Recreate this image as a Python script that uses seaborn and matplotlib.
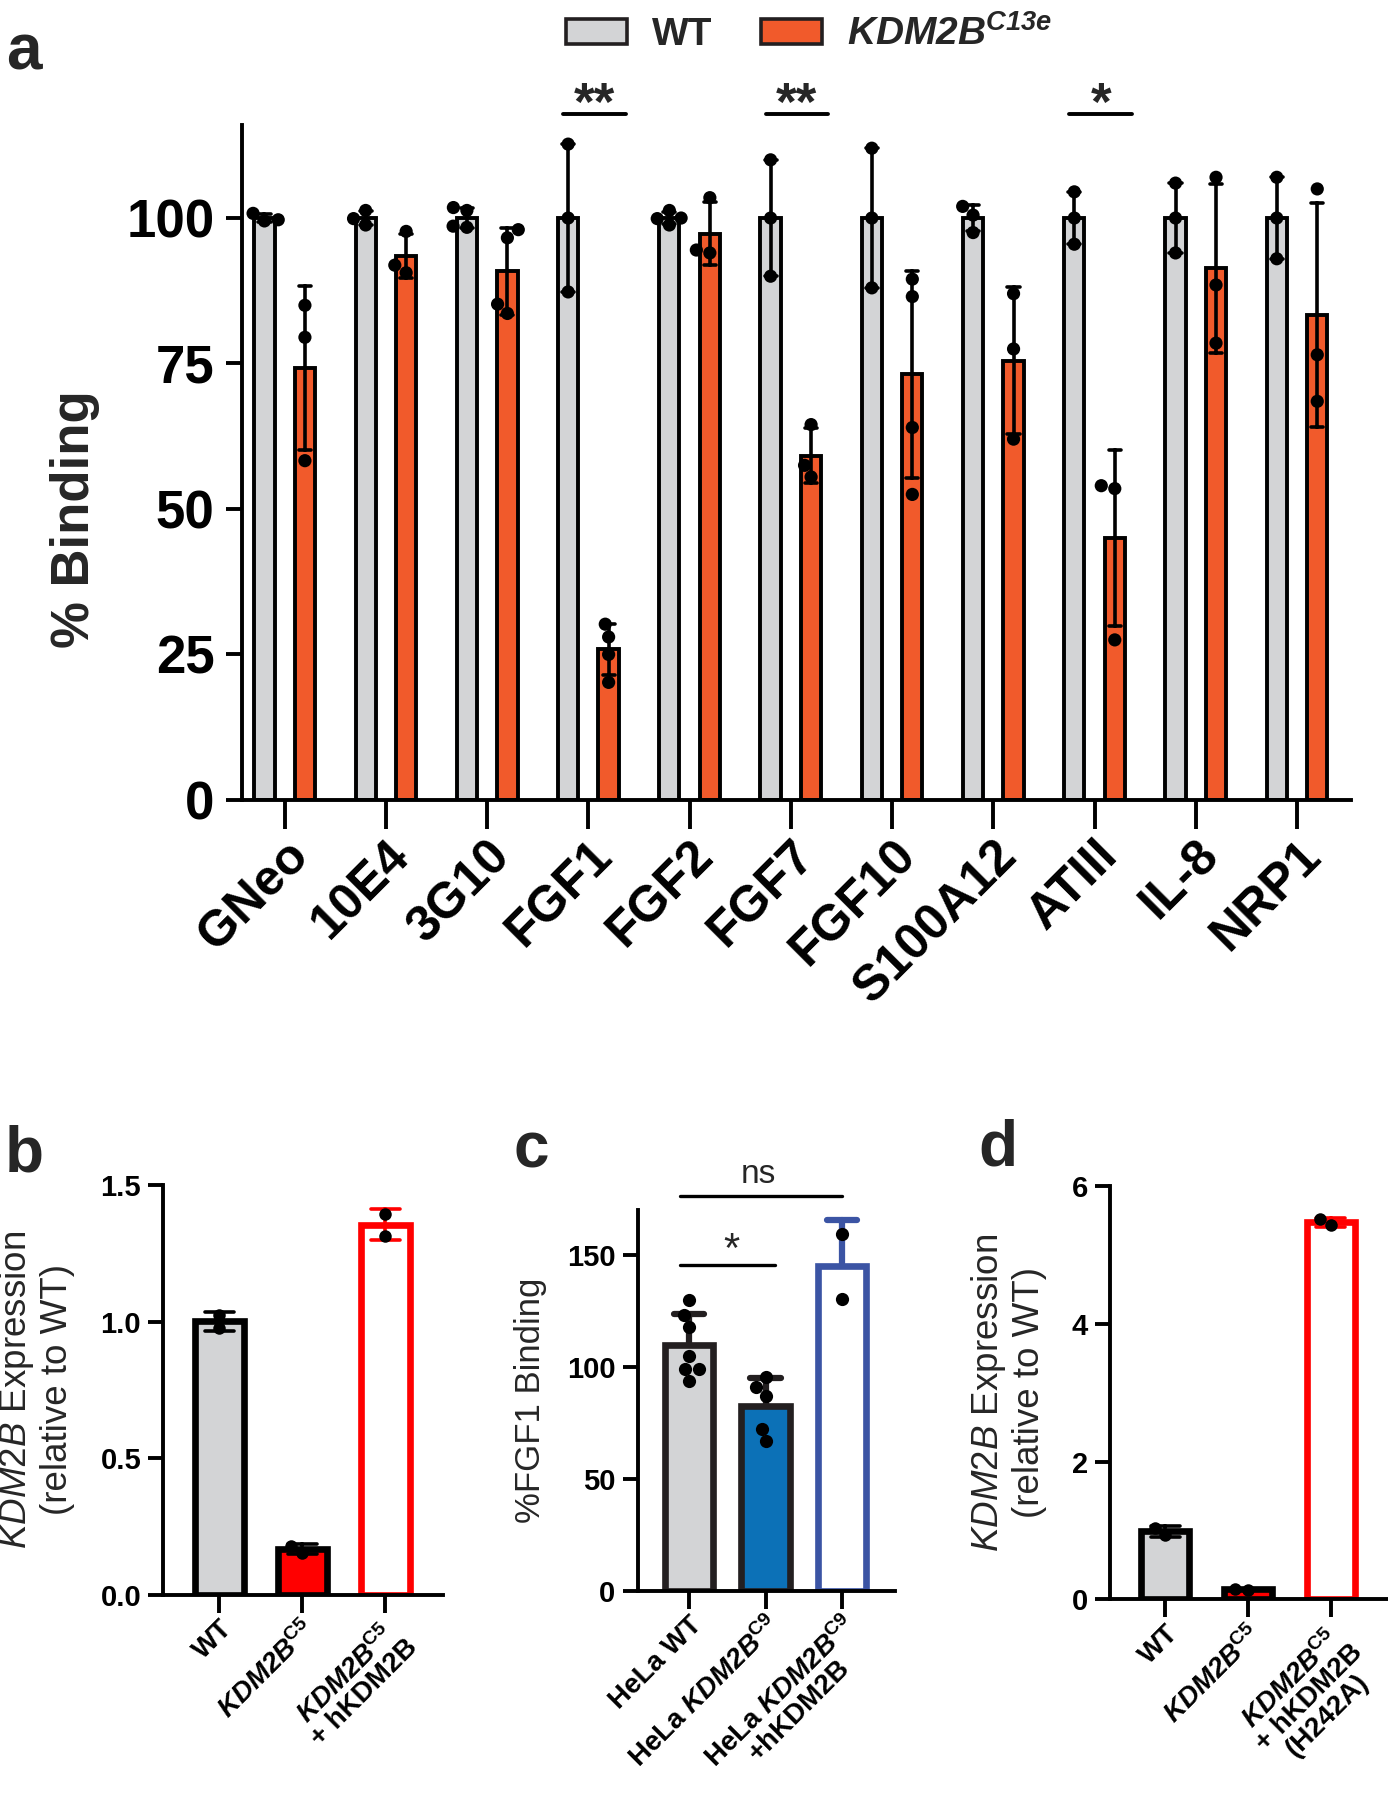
import numpy as np
import pandas as pd
import matplotlib
matplotlib.use("Agg")
import matplotlib.pyplot as plt
import seaborn as sns
from matplotlib.patches import Patch

# ---------------- data ----------------
targets = ["GNeo", "10E4", "3G10", "FGF1", "FGF2", "FGF7", "FGF10",
           "S100A12", "ATIII", "IL-8", "NRP1"]
wt_a = [[99.5, 100.8, 99.7], [98.8, 101.3, 99.9], [101.8, 98.4, 101.3, 98.6],
        [112.7, 100.0, 87.3], [101.3, 98.8, 100.0, 99.9], [110.0, 100.0, 90.0],
        [112.0, 100.0, 88.0], [102.0, 100.5, 97.5], [104.5, 100.0, 95.5],
        [106.0, 100.0, 94.0], [107.0, 100.0, 93.0]]
ko_a = [[85.0, 79.5, 58.3], [97.7, 90.6, 91.9], [96.6, 98.0, 85.2, 83.6],
        [30.2, 28.0, 25.0, 20.2], [103.5, 94.5, 94.0], [64.5, 57.5, 55.5],
        [89.5, 86.5, 64.0, 52.5], [87.0, 77.5, 62.0], [54.0, 53.5, 27.5],
        [107.0, 88.5, 78.5], [105.0, 76.5, 68.5]]
sig_a_targets = ["FGF1", "FGF7", "ATIII"]
sig_a_text = ["**", "**", "*"]

cats_b = ["WT", "KDM2B C5", "KDM2B C5 + hKDM2B"]
labels_b = ["WT", r"$\mathbfit{KDM2B}^{\mathbf{C5}}$",
            r"$\mathbfit{KDM2B}^{\mathbf{C5}}$" + "\n+ hKDM2B"]
vals_b = [[1.025, 0.976], [0.155, 0.180], [1.395, 1.315]]

cats_c = ["HeLa WT", "HeLa KDM2B C9", "HeLa KDM2B C9 +hKDM2B"]
labels_c = ["HeLa WT", r"HeLa $\mathbfit{KDM2B}^{\mathbf{C9}}$",
            r"HeLa $\mathbfit{KDM2B}^{\mathbf{C9}}$" + "\n+hKDM2B"]
vals_c = [[123.3, 129.7, 117.8, 105.0, 99.1, 99.1, 93.4],
          [95.3, 86.8, 91.1, 72.4, 66.7],
          [159.3, 130.3]]

cats_d = ["WT", "KDM2B C5", "KDM2B C5 + hKDM2B (H242A)"]
labels_d = ["WT", r"$\mathbfit{KDM2B}^{\mathbf{C5}}$",
            r"$\mathbfit{KDM2B}^{\mathbf{C5}}$" + "\n+ hKDM2B\n(H242A)"]
vals_d = [[0.93, 1.04], [0.14, 0.15], [5.43, 5.52]]

# ---------------- style ----------------
sns.set_theme(style="ticks")
plt.rcParams['font.family'] = ['Liberation Sans', 'DejaVu Sans']
plt.rcParams['mathtext.fontset'] = 'custom'
plt.rcParams['mathtext.rm'] = 'Liberation Sans'
plt.rcParams['mathtext.it'] = 'Liberation Sans:italic'
plt.rcParams['mathtext.bf'] = 'Liberation Sans:bold'
plt.rcParams['mathtext.bfit'] = 'Liberation Sans:italic:bold'

GRAY = "#D3D4D6"
ORANGE = "#F15A2B"
RED = "#FF0000"
BLUE = "#0C71B7"
BLUE_EDGE = "#3B54A4"
DARK = "#231F20"

fig = plt.figure(figsize=(13.88, 18), dpi=100)

# ---------------- panel a ----------------
ax = fig.add_axes([0.1741, 0.5556, 0.799, 0.375])
rows = []
for t, w, k in zip(targets, wt_a, ko_a):
    rows += [(t, "WT", v) for v in w]
    rows += [(t, "KDM2B", v) for v in k]
dfa = pd.DataFrame(rows, columns=["target", "geno", "value"])

sns.barplot(data=dfa, x="target", y="value", hue="geno", order=targets,
            hue_order=["WT", "KDM2B"], palette={"WT": GRAY, "KDM2B": ORANGE},
            saturation=1, errorbar="sd", capsize=0.24, width=0.8, gap=0.5,
            edgecolor="black", linewidth=2.8,
            err_kws={"linewidth": 2.6, "color": "black"},
            legend=False, ax=ax)
sns.swarmplot(data=dfa, x="target", y="value", hue="geno", order=targets,
              hue_order=["WT", "KDM2B"], palette={"WT": "black", "KDM2B": "black"},
              dodge=True, size=9.5, legend=False, ax=ax, zorder=4)

ax.set_xlim(-0.425, 10.53)
ax.set_ylim(0, 116)
ax.set_yticks([0, 25, 50, 75, 100])
ax.set_xlabel("")
ax.set_ylabel("% Binding", fontsize=38, fontweight="bold")
ax.yaxis.set_label_coords(-0.128, 0.416)
sns.despine(ax=ax)
for s in ["left", "bottom"]:
    ax.spines[s].set_linewidth(2.8)
    ax.spines[s].set_color("black")
ax.tick_params(axis="y", length=11.5, width=2.8, labelsize=38, pad=8, colors="black")
ax.tick_params(axis="x", length=21, width=2.8, labelsize=36, pad=2, colors="black")
for lab in ax.get_yticklabels():
    lab.set_fontweight("bold")
ax.set_xticks(range(len(targets)))
ax.set_xticklabels(targets, rotation=45, ha="right", va="top",
                   rotation_mode="anchor", fontweight="bold")

for t, s in zip(sig_a_targets, sig_a_text):
    i = targets.index(t)
    ax.plot([i - 0.25, i + 0.37], [117.9, 117.9], color="black", lw=2.8,
            clip_on=False)
    ax.text(i + 0.06, 116.8, s, ha="center", va="baseline", fontsize=38,
            fontweight="bold", clip_on=False)

handles = [Patch(facecolor=GRAY, edgecolor=DARK, linewidth=2.6),
           Patch(facecolor=ORANGE, edgecolor=DARK, linewidth=2.6)]
fig.legend(handles, ["WT", r"$\mathbfit{KDM2B}^{\mathbfit{C13e}}$"],
           loc="center left", bbox_to_anchor=(0.394, 0.981), ncol=2,
           frameon=False, borderpad=0, handlelength=1.56, handleheight=0.64,
           handletextpad=0.65, columnspacing=1.25,
           prop={"size": 28, "weight": "bold"})


# ---------------- small panels ----------------
def small_panel(rect, cats, labels, vals, faces, edges, errcols, ylim, yticks,
                yticklabels, capsize, width, err_lw, err_z, dot, ylab, ylab_x,
                ylab_size):
    ax = fig.add_axes(rect)
    df = pd.DataFrame({"cond": np.repeat(cats, [len(v) for v in vals]),
                       "val": np.concatenate(vals)})
    sns.barplot(data=df, x="cond", y="val", hue="cond", order=cats,
                hue_order=cats, palette=dict(zip(cats, faces)), saturation=1,
                errorbar="sd", capsize=capsize, width=width,
                edgecolor="black", linewidth=4.8,
                err_kws={"linewidth": err_lw, "color": "black", "zorder": err_z},
                legend=False, ax=ax)
    for p, e in zip(ax.patches, edges):
        p.set_edgecolor(e)
    for ln in ax.lines:
        xd = np.asarray(ln.get_xdata(), dtype=float)
        idx = int(round(np.nanmean(xd)))
        ln.set_color(errcols[idx])
    sns.swarmplot(data=df, x="cond", y="val", order=cats, color="black",
                  size=dot, ax=ax, zorder=4)
    ax.set_xlim(-0.67, 2.69)
    ax.set_ylim(*ylim)
    ax.set_yticks(yticks)
    ax.set_yticklabels(yticklabels)
    ax.set_xlabel("")
    sns.despine(ax=ax)
    for s in ["left", "bottom"]:
        ax.spines[s].set_linewidth(2.8)
        ax.spines[s].set_color("black")
    ax.tick_params(axis="y", length=11, width=2.8, labelsize=21, pad=5, colors="black")
    ax.tick_params(axis="x", length=13, width=2.8, labelsize=20, pad=2, colors="black")
    for lab in ax.get_yticklabels():
        lab.set_fontweight("bold")
    ax.set_xticks(range(len(cats)))
    ax.set_xticklabels(labels, rotation=45, ha="right", va="top",
                       rotation_mode="anchor", fontweight="bold")
    for lab in ax.get_xticklabels():
        lab.set_multialignment("center")
        lab.set_linespacing(0.95)
    ax.set_ylabel(ylab, fontsize=ylab_size, linespacing=1.15)
    ax.yaxis.set_label_coords(ylab_x, 0.5)
    return ax


axb = small_panel([0.1177, 0.1139, 0.2013, 0.2278], cats_b, labels_b, vals_b,
                  [GRAY, RED, "white"], ["black", "black", RED],
                  ["black", "black", RED], (0, 1.5), [0, 0.5, 1.0, 1.5],
                  ["0.0", "0.5", "1.0", "1.5"], 0.35, 0.59, 2.6, 2, 9,
                  r"$\mathit{KDM2B}$ Expression" + "\n(relative to WT)", -0.315,
                  26.5)

axc = small_panel([0.4594, 0.1163, 0.1854, 0.2115], cats_c, labels_c, vals_c,
                  [GRAY, BLUE, "white"], [DARK, DARK, BLUE_EDGE],
                  [DARK, DARK, BLUE_EDGE], (0, 170), [0, 50, 100, 150],
                  ["0", "50", "100", "150"], 0.4, 0.63, 4.5, 0.5, 9.5,
                  "%FGF1 Binding", -0.353, 25)
axc.plot([-0.12, 1.12], [145.5, 145.5], color="black", lw=2.4, clip_on=False)
axc.text(0.55, 146.7, "*", ha="center", va="baseline", fontsize=30, clip_on=False)
axc.plot([-0.12, 2.0], [176.3, 176.3], color="black", lw=2.4, clip_on=False)
axc.text(0.91, 182.2, "ns", ha="center", va="baseline", fontsize=24, clip_on=False)

axd = small_panel([0.7997, 0.1115, 0.2003, 0.2296], cats_d, labels_d, vals_d,
                  [GRAY, RED, "white"], ["black", "black", RED],
                  ["black", "black", RED], (0, 6), [0, 2, 4, 6],
                  ["0", "2", "4", "6"], 0.35, 0.58, 2.6, 2, 9,
                  r"$\mathit{KDM2B}$ Expression" + "\n(relative to WT)", -0.227,
                  26.5)

# panel letters
for letter, x, ybase in [("a", 6, 70), ("b", 5, 1171), ("c", 513, 1167), ("d", 978, 1165)]:
    fig.text(x / 1388, 1 - ybase / 1800, letter, fontsize=46, fontweight="bold",
             ha="left", va="baseline")

fig.savefig("out.png", dpi=100)
